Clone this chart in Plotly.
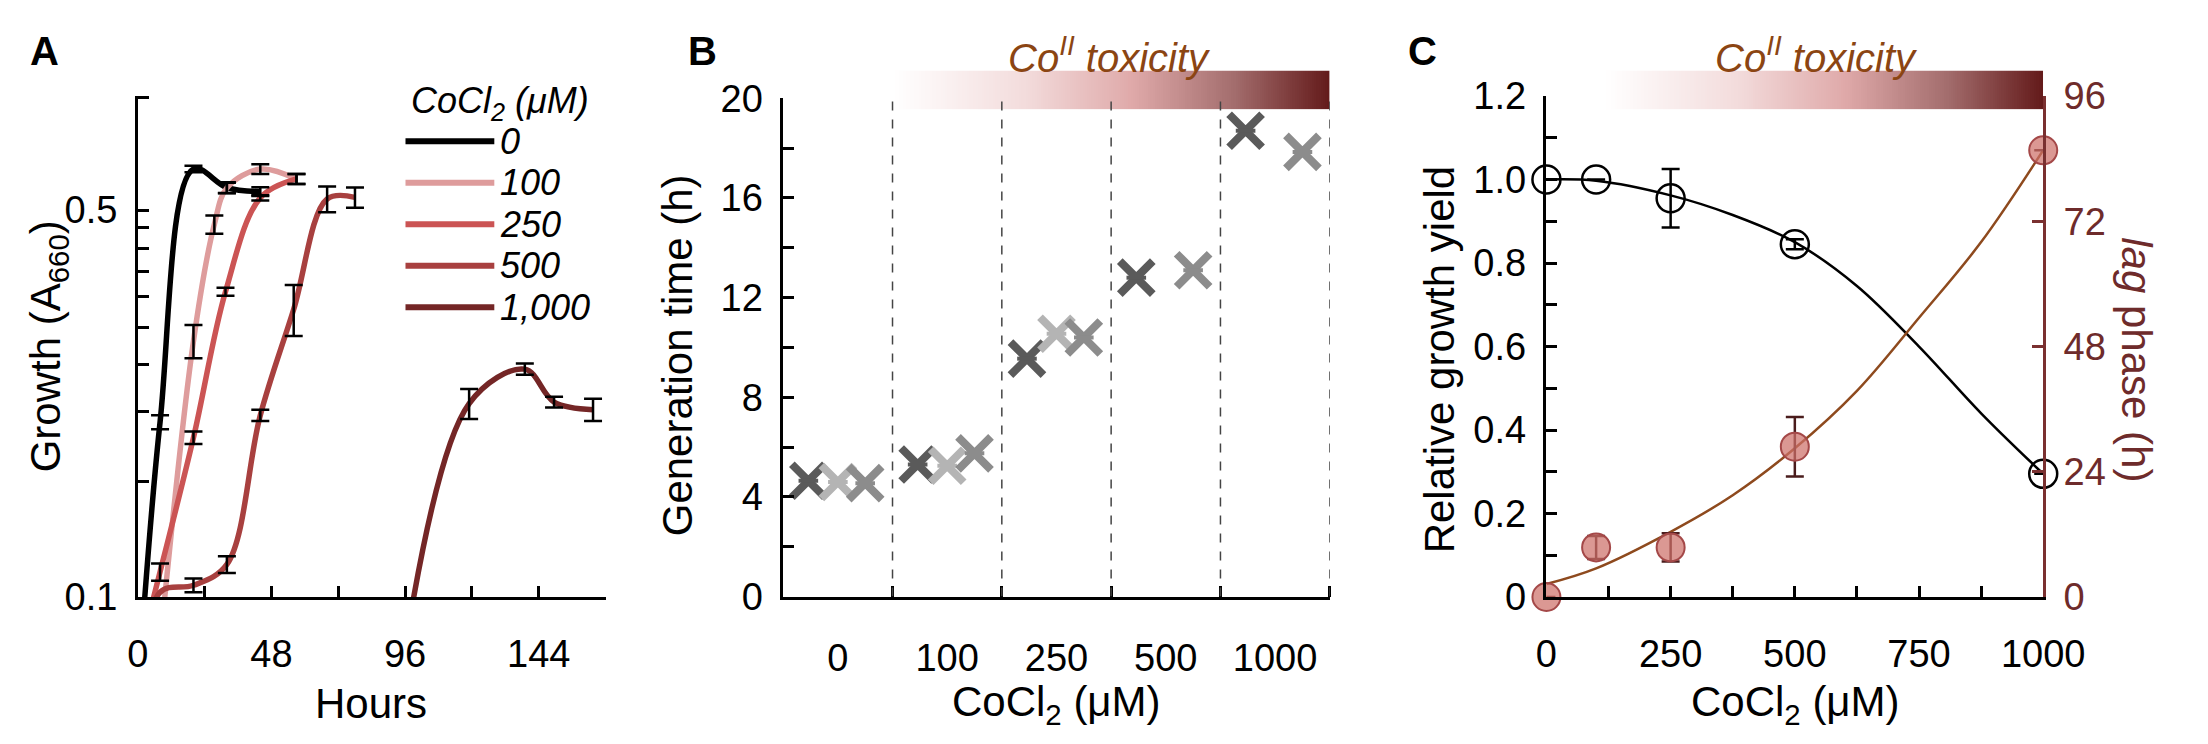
import plotly.graph_objects as go

W, H = 2208, 744
FONT = 'Liberation Sans, Arial, sans-serif'

# ---------------- A: growth curves, A660 vs hours ----------------
conc_labels = ['0', '100', '250', '500', '1,000']
conc_colors = ['#000000', '#de9c9c', '#cb5454', '#a8403f', '#742626']

hours_0 = [0, 8, 20, 32, 44]
od_0 = [0.067, 0.207, 0.593, 0.549, 0.540]
sd_0 = [0, 0.006, 0.008, 0.012, 0.010]

hours_100 = [8, 20, 27.5, 32, 44, 57]
od_100 = [0.082, 0.290, 0.471, 0.548, 0.593, 0.569]
sd_100 = [0, 0.020, 0.018, 0.012, 0.012, 0.012]

hours_250 = [0, 8, 20, 31.5, 44, 57]
od_250 = [0.077, 0.111, 0.194, 0.356, 0.526, 0.569]
sd_250 = [0, 0.004, 0.005, 0.006, 0.006, 0.012]

hours_500 = [0, 8, 20, 32, 44, 56, 68, 78]
od_500 = [0.060, 0.102, 0.105, 0.1145, 0.213, 0.331, 0.5235, 0.527]
sd_500 = [0, 0, 0.003, 0.004, 0.005, 0.035, 0.028, 0.022]

hours_1000 = [96, 119, 139, 149.5, 163.5]
od_1000 = [0.081, 0.2236, 0.258, 0.225, 0.218]
sd_1000 = [0, 0.014, 0.006, 0.005, 0.010]

a_xticks = [0, 48, 96, 144]
a_xminor = [24, 72, 120, 168]
a_yticks = [0.1, 0.5]
a_yminor = [0.162, 0.216, 0.263, 0.307, 0.349, 0.388, 0.426, 0.465, 0.8]

# ---------------- B: generation time ----------------
b_doses = ['0', '100', '250', '500', '1000']
gen_rep1 = [4.65, 5.30, 9.55, 12.80, 18.70]
gen_rep2 = [4.60, 5.25, 10.55, None, None]
gen_rep3 = [4.55, 5.75, 10.40, 13.10, 17.85]
rep_colors = ['#5a5a5a', '#b4b4b4', '#8c8c8c']

# ---------------- C: yield and lag phase ----------------
c_conc = [0, 100, 250, 500, 1000]
rel_yield = [1.0, 1.0, 0.955, 0.845, 0.295]
rel_yield_sd = [0, 0, 0.07, 0.012, 0]
lag_h = [0, 9.5, 9.5, 28.8, 85.6]
lag_sd = [0, 2.2, 2.7, 5.7, 0]
fit_conc = [0, 100, 250, 375, 500, 625, 750, 875, 1000]
yield_fit = [1.0, 0.997, 0.962, 0.915, 0.85, 0.745, 0.60, 0.44, 0.295]
lag_fit = [2.5, 5.5, 12.5, 19.5, 28.5, 39.5, 53.5, 68, 85.6]


def px_x(p):
    return p / W


def px_y(p):
    return 1 - p / H


fig = go.Figure()

# growth curves (spline through the points) + error bars
series_a = [(hours_0, od_0, sd_0), (hours_100, od_100, sd_100), (hours_250, od_250, sd_250),
            (hours_500, od_500, sd_500), (hours_1000, od_1000, sd_1000)]
for (t, v, e), name, col in zip(series_a, conc_labels, conc_colors):
    fig.add_trace(go.Scatter(x=t, y=v, mode='lines', name=name, xaxis='x', yaxis='y',
                             line=dict(color=col, width=5.5, shape='spline', smoothing=1.0)))
for (t, v, e), name, col in zip(series_a, conc_labels, conc_colors):
    pts = [(a, b, c) for a, b, c in zip(t, v, e) if c > 0]
    fig.add_trace(go.Scatter(x=[p[0] for p in pts], y=[p[1] for p in pts], mode='markers',
                             xaxis='x', yaxis='y', marker=dict(size=1, color='rgba(0,0,0,0)'),
                             error_y=dict(type='data', array=[p[2] for p in pts], color='black',
                                          thickness=2.5, width=9)))

# generation time replicates
offsets = [-0.27, 0.0, 0.25]
for reps, col, off in zip([gen_rep1, gen_rep2, gen_rep3], rep_colors, offsets):
    xs = [i + off for i in range(len(b_doses))]
    fig.add_trace(go.Scatter(x=xs, y=reps, mode='markers', xaxis='x2', yaxis='y2',
                             marker=dict(symbol='x-thin', size=33, line=dict(width=8, color=col))))
    fig.add_trace(go.Scatter(x=xs, y=reps, mode='markers', xaxis='x2', yaxis='y2',
                             marker=dict(symbol='line-ew', size=14, line=dict(width=4, color=col))))

# yield / lag fits and points
fig.add_trace(go.Scatter(x=fit_conc, y=lag_fit, mode='lines', xaxis='x3', yaxis='y6',
                         line=dict(color='#8e4a1e', width=2.5, shape='spline')))
fig.add_trace(go.Scatter(x=fit_conc, y=yield_fit, mode='lines', xaxis='x3', yaxis='y3',
                         line=dict(color='black', width=2.5, shape='spline')))
fig.add_trace(go.Scatter(x=c_conc, y=lag_h, mode='markers', xaxis='x3', yaxis='y6', cliponaxis=False,
                         marker=dict(symbol='circle', size=28, color='rgba(205,112,106,0.72)',
                                     line=dict(color='#a44848', width=2)),
                         error_y=dict(type='data', array=lag_sd, color='#4a1c1c', thickness=2.5, width=9)))
fig.add_trace(go.Scatter(x=c_conc, y=rel_yield, mode='markers', xaxis='x3', yaxis='y3', cliponaxis=False,
                         marker=dict(symbol='circle-open', size=28, color='black', line=dict(width=2.5)),
                         error_y=dict(type='data', array=rel_yield_sd, color='black', thickness=2.5, width=9)))

# toxicity gradient bars
grad = [[i for i in range(200)]]
tox_scale = [[0, '#ffffff'], [0.3, '#f3dcdc'], [0.55, '#dfa9a9'], [0.78, '#a46e6e'], [1, '#641b1b']]
for xa, ya in [('x4', 'y4'), ('x5', 'y5')]:
    fig.add_trace(go.Heatmap(z=grad, xaxis=xa, yaxis=ya, colorscale=tox_scale, showscale=False,
                             hoverinfo='skip'))

tickfont = dict(family=FONT, size=38, color='black')
ax = dict(showline=True, linecolor='black', linewidth=2.5, ticks='inside', ticklen=11, tickwidth=2.5,
          tickcolor='black', showgrid=False, zeroline=False, tickfont=tickfont, fixedrange=True)
minor_style = dict(tickmode='array', ticks='inside', ticklen=11, tickwidth=2.5, tickcolor='black',
                   showgrid=False)
hidden = dict(visible=False, showgrid=False, zeroline=False, fixedrange=True)

fig.update_layout(
    width=W, height=H, autosize=False, showlegend=False,
    margin=dict(l=0, r=0, t=0, b=0),
    paper_bgcolor='white', plot_bgcolor='rgba(0,0,0,0)',
    font=dict(family=FONT, color='black'),
    xaxis=dict(ax, domain=[px_x(121.7), px_x(601)], range=[0, 168], anchor='y',
               tickvals=a_xticks, ticktext=[str(v) for v in a_xticks], ticklabelstandoff=22,
               minor=dict(minor_style, tickvals=a_xminor)),
    yaxis=dict(ax, domain=[px_y(602), px_y(71)], type='log', range=[-1, -0.095], anchor='x',
               tickvals=a_yticks, ticktext=[str(v) for v in a_yticks], ticklabelstandoff=10,
               minor=dict(minor_style, tickvals=a_yminor)),
    xaxis2=dict(ax, domain=[px_x(783), px_x(1343)], range=[-0.5, 4.5], anchor='y2',
                tickvals=list(range(len(b_doses))), ticktext=b_doses, ticks='', ticklabelstandoff=26,
                minor=dict(minor_style, tickvals=[i + 0.5 for i in range(len(b_doses))])),
    yaxis2=dict(ax, domain=[px_y(601.5), px_y(73.5)], range=[0, 20], anchor='x2',
                tickvals=list(range(0, 21, 4)), ticklabelstandoff=10,
                minor=dict(minor_style, tickvals=list(range(2, 21, 4)))),
    xaxis3=dict(ax, domain=[px_x(1565), px_x(2074)], range=[0, 1000], anchor='y3',
                tickvals=list(range(0, 1001, 250)), ticklabelstandoff=22,
                minor=dict(minor_style, tickvals=list(range(125, 1000, 250)))),
    yaxis3=dict(ax, domain=[px_y(602), px_y(71)], range=[0, 1.2], anchor='x3',
                tickvals=[0, 0.2, 0.4, 0.6, 0.8, 1.0, 1.2],
                ticktext=['0', '0.2', '0.4', '0.6', '0.8', '1.0', '1.2'], ticklabelstandoff=10,
                minor=dict(minor_style, tickvals=[0.1, 0.3, 0.5, 0.7, 0.9, 1.1])),
    yaxis6=dict(ax, overlaying='y3', side='right', anchor='x3', range=[0, 96],
                tickvals=[0, 24, 48, 72, 96], linecolor='#7a3030', tickcolor='#7a3030',
                tickfont=dict(family=FONT, size=38, color='#6e2b2b'), ticklabelstandoff=10),
    xaxis4=dict(hidden, domain=[px_x(895), px_x(1343)], range=[-0.5, 199.5], anchor='y4'),
    yaxis4=dict(hidden, domain=[px_y(85), px_y(44)], range=[-0.5, 0.5], anchor='x4'),
    xaxis5=dict(hidden, domain=[px_x(1624), px_x(2074)], range=[-0.5, 199.5], anchor='y5'),
    yaxis5=dict(hidden, domain=[px_y(85), px_y(44)], range=[-0.5, 0.5], anchor='x5'),
)

# dashed group separators in B
for i in range(len(b_doses)):
    fig.add_shape(type='line', xref='x2', yref='y2', x0=i + 0.5, x1=i + 0.5, y0=0, y1=20,
                  line=dict(color='#444444', width=1.5, dash='dash'))

ann = []


def label(text, x, y, size=42, angle=0, color='black', xanchor='center'):
    ann.append(dict(text=text, x=px_x(x), y=px_y(y), xref='paper', yref='paper', showarrow=False,
                    textangle=angle, xanchor=xanchor, yanchor='middle',
                    font=dict(family=FONT, size=size, color=color)))


# panel letters
label('<b>A</b>', 26, 23, size=40)
label('<b>B</b>', 700, 23, size=40)
label('<b>C</b>', 1438, 23, size=40)

# axis titles
label('Growth (A<sub>660</sub>)', 30, 336, angle=-90)
label('Hours', 361, 715)
label('Generation time (h)', 675, 346, angle=-90)
label('CoCl<sub>2</sub> (μM)', 1063, 716)
label('Relative growth yield', 1455, 350, angle=-90)
label('CoCl<sub>2</sub> (μM)', 1820, 716)
label('<i>lag</i> phase (h)', 2170, 351, angle=90, color='#6e2b2b')

# toxicity captions
label('<i>Co<sup>II</sup> toxicity</i>', 1117, 28, size=40, color='#8b4513')
label('<i>Co<sup>II</sup> toxicity</i>', 1842, 28, size=40, color='#8b4513')

# legend of panel A
label('<i>CoCl<sub>2</sub> (μM)</i>', 400, 78, size=36, xanchor='left')
for i, (name, col) in enumerate(zip(conc_labels, conc_colors)):
    yy = 119 + i * 44
    fig.add_shape(type='line', xref='paper', yref='paper', x0=px_x(396), x1=px_x(487),
                  y0=px_y(yy), y1=px_y(yy), line=dict(color=col, width=6))
    label('<i>%s</i>' % name, 491, yy, size=36, xanchor='left')

fig.update_layout(annotations=ann)

fig.write_html('out.html')
